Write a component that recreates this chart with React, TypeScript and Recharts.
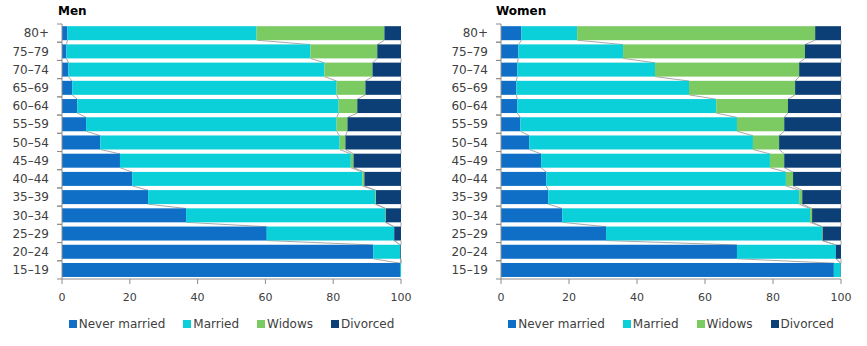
import React from 'react';
import { BarChart, Bar, XAxis, YAxis, Legend } from 'recharts';

const ageGroups = ['80+', '75–79', '70–74', '65–69', '60–64', '55–59', '50–54', '45–49', '40–44', '35–39', '30–34', '25–29', '20–24', '15–19'];

const menNeverMarried = [1.6, 1.3, 1.9, 3.0, 4.5, 7.1, 11.3, 17.1, 20.7, 25.4, 36.6, 60.4, 91.8, 99.7];
const menMarried = [55.8, 72.0, 75.5, 78.0, 77.1, 73.9, 70.6, 68.1, 67.9, 67.0, 58.8, 37.6, 8.0, 0.3];
const menWidows = [37.7, 19.7, 14.2, 8.5, 5.5, 3.2, 1.7, 0.8, 0.6, 0.2, 0.1, 0.0, 0.0, 0.0];
const menDivorced = [4.9, 7.0, 8.4, 10.5, 12.9, 15.8, 16.4, 14.0, 10.8, 7.4, 4.5, 2.0, 0.2, 0.0];

const womenNeverMarried = [6.0, 5.1, 4.8, 4.5, 4.8, 5.7, 8.3, 11.8, 13.3, 13.9, 18.0, 30.9, 69.4, 97.9];
const womenMarried = [16.4, 30.8, 40.5, 50.8, 58.5, 63.7, 65.8, 67.3, 70.5, 73.8, 72.9, 63.5, 29.1, 2.0];
const womenWidows = [70.0, 53.5, 42.4, 31.2, 21.1, 13.9, 7.7, 4.2, 2.1, 0.9, 0.6, 0.2, 0.0, 0.0];
const womenDivorced = [7.6, 10.6, 12.3, 13.5, 15.6, 16.7, 18.2, 16.7, 14.1, 11.4, 8.5, 5.4, 1.5, 0.1];

const seriesNames = ['Never married', 'Married', 'Widows', 'Divorced'];
const seriesColors = ['#0F6FC6', '#0BD0D9', '#7CCA62', '#0B3F75'];
const xTicks = [0, 20, 40, 60, 80, 100];

const KEYS = ['nm', 'm', 'w', 'd'];
const GAP = 0.12;
const AXIS = '#8C8C8C';
const TEXT = '#404040';
const FONT = '"DejaVu Sans", sans-serif';

type Row = { age: string; nm: number; m: number; w: number; d: number };

function buildRows(nm: number[], m: number[], w: number[], d: number[]): Row[] {
  return ageGroups.map((age, i) => ({ age, nm: nm[i], m: m[i], w: w[i], d: d[i] }));
}

function makeShape(rows: Row[], keyIndex: number) {
  const cum = (row: any) => KEYS.slice(0, keyIndex + 1).reduce((s, k) => s + row[k], 0);
  return (props: any) => {
    const { x, y, width, height, fill, index, background } = props;
    let line = null;
    if (background && index < rows.length - 1) {
      const band = height / (1 - 2 * GAP);
      const x1 = background.x + (background.width * cum(rows[index])) / 100;
      const x2 = background.x + (background.width * cum(rows[index + 1])) / 100;
      line = <line x1={x1} y1={y + height} x2={x2} y2={y + band} stroke="#A8A8A8" strokeWidth={1} />;
    }
    return (
      <g>
        <rect x={x} y={y} width={Math.max(width || 0, 0)} height={height} fill={fill} />
        {line}
      </g>
    );
  };
}

const YTick = (props: any) => {
  const { x, y, payload } = props;
  const half = payload && payload.offset ? payload.offset : 0;
  const ax = x + 13;
  return (
    <g>
      <text x={x} y={y} dy="0.355em" textAnchor="end" fontSize={12} fill={TEXT} fontFamily={FONT}>
        {payload.value}
      </text>
      <line x1={ax - 5} x2={ax} y1={y - half} y2={y - half} stroke={AXIS} />
      <line x1={ax - 5} x2={ax} y1={y + half} y2={y + half} stroke={AXIS} />
    </g>
  );
};

const LegendContent = () => (
  <div style={{ display: 'flex', justifyContent: 'center', alignItems: 'center', height: 29, fontFamily: FONT, fontSize: 12, color: TEXT }}>
    {seriesNames.map((n, i) => (
      <div key={n} style={{ display: 'flex', alignItems: 'center', marginRight: i < seriesNames.length - 1 ? 18 : 0 }}>
        <span style={{ display: 'inline-block', width: 8, height: 8, background: seriesColors[i], marginRight: 2 }} />
        <span style={{ whiteSpace: 'nowrap' }}>{n}</span>
      </div>
    ))}
  </div>
);

function Panel({ rows, width, right }: { rows: Row[]; width: number; right: number }) {
  return (
    <BarChart
      width={width}
      height={346}
      data={rows}
      layout="vertical"
      barCategoryGap={`${GAP * 100}%`}
      margin={{ top: 24, right, bottom: 8, left: 0 }}
    >
      <XAxis
        type="number"
        domain={[0, 100]}
        ticks={xTicks}
        tickSize={5}
        tickMargin={9}
        stroke={AXIS}
        height={30}
        tick={{ fontSize: 11, fill: TEXT, fontFamily: FONT }}
      />
      <YAxis
        type="category"
        dataKey="age"
        width={62}
        interval={0}
        tickLine={false}
        tickSize={5}
        tickMargin={8}
        stroke={AXIS}
        tick={<YTick />}
      />
      <Legend verticalAlign="bottom" height={29} wrapperStyle={{ left: 62, width: width - 62 - right }} content={<LegendContent />} />
      {KEYS.map((k, i) => (
        <Bar
          key={k}
          dataKey={k}
          name={seriesNames[i]}
          stackId="a"
          fill={seriesColors[i]}
          isAnimationActive={false}
          shape={makeShape(rows, i)}
        />
      ))}
    </BarChart>
  );
}

const menRows = buildRows(menNeverMarried, menMarried, menWidows, menDivorced);
const womenRows = buildRows(womenNeverMarried, womenMarried, womenWidows, womenDivorced);

const titleStyle: React.CSSProperties = {
  position: 'absolute',
  top: 5,
  fontFamily: FONT,
  fontWeight: 'bold',
  fontSize: 12,
  lineHeight: '12px',
  color: '#000',
};

export default function App() {
  return (
    <div style={{ position: 'absolute', left: 0, top: 0, width: 867, height: 346, background: '#fff', overflow: 'hidden' }}>
      <div style={{ position: 'absolute', left: 0, top: 0 }}>
        <Panel rows={menRows} width={430} right={29} />
      </div>
      <div style={{ position: 'absolute', left: 439, top: 0 }}>
        <Panel rows={womenRows} width={428} right={26} />
      </div>
      <div style={{ ...titleStyle, left: 58 }}>Men</div>
      <div style={{ ...titleStyle, left: 496 }}>Women</div>
    </div>
  );
}
